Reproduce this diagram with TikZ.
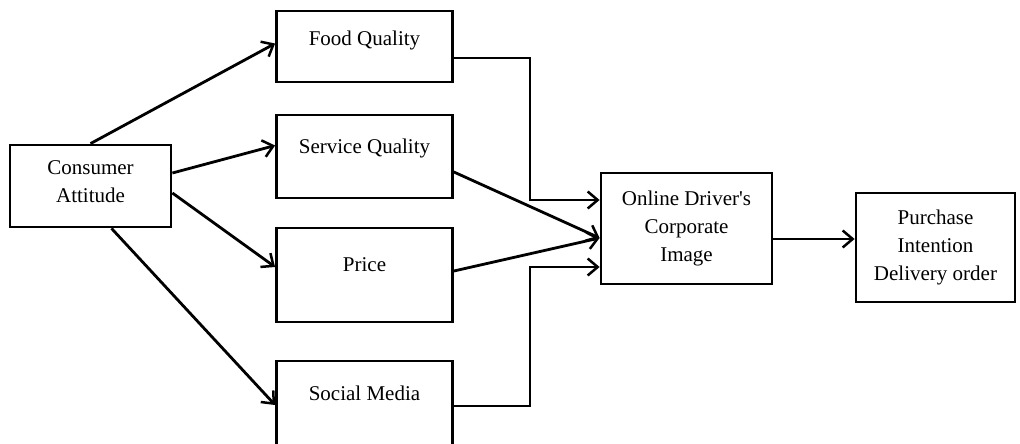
\documentclass[tikz,border=0pt]{standalone}
\usepackage{fontspec}
\setmainfont{Liberation Serif}
\usepackage{tikz}
\usetikzlibrary{arrows.meta}
\usetikzlibrary{calc}

\begin{document}
\begin{tikzpicture}[x=1pt,y=-1pt]
\tikzset{box/.style={draw=black, line width=2.8pt, inner sep=0pt, align=center,
                     font=\fontsize{21}{28}\selectfont}}
\tikzset{link/.style={line width=2.8pt, -{Straight Barb[length=10pt,width=17pt,line width=2.5pt]}}}
\tikzset{toptext/.style={anchor=center, yshift=-#1pt, font=\fontsize{21}{28}\selectfont}}

\useasboundingbox (0,0) rectangle (1020,444);

% left and right boxes
\node[box, minimum width=161pt, minimum height=82pt] (ca) at (90.5,186) {Consumer\\Attitude\rule[-9pt]{0pt}{9pt}};
\node[box, minimum width=171pt, minimum height=111pt] (oi) at (686.5,228.5) {Online Driver\textquotesingle s\\Corporate\\Image};
\node[box, minimum width=159pt, minimum height=109pt] (pi) at (935.5,247.5) {Purchase\\Intention\\Delivery order\rule[-4pt]{0pt}{4pt}};

% middle column
\foreach \name/\y/\h/\off/\txt in {%
   fq/46.5/71/31/Food Quality,%
   sq/156.5/83/35/Service Quality,%
   pr/275/94/38/Price,%
   sm/411/100/34/Social Media}
   \node[box, minimum width=176pt, minimum height=\h pt,
         label={[toptext=\off]north:\txt}] (\name) at (364.5,\y) {};

% consumer attitude to the four factors
\draw[link] (ca.north) -- ([yshift=3pt]fq.west);
\draw[link] ([yshift=13pt]ca.east) -- ([yshift=11pt]sq.west);
\draw[link] ([yshift=-7pt]ca.east) -- ([yshift=8pt]pr.west);
\draw[link] ([xshift=21pt]ca.south) -- ([yshift=6pt]sm.west);

% factors to corporate image
\draw[link] ([yshift=-11.5pt]fq.east) -- ++(76,0) |- ([yshift=28.5pt]oi.west);
\draw[link] ([yshift=-15.5pt]sq.east) -- ([yshift=-9.5pt]oi.west);
\draw[link] ([yshift=4pt]pr.east) -- ([yshift=-9.5pt]oi.west);
\draw[link] ([yshift=5pt]sm.east) -- ++(76,0) |- ([yshift=-38.5pt]oi.west);

% corporate image to purchase intention
\draw[link] ([yshift=-10.5pt]oi.east) -- ([yshift=-10.5pt]oi.east -| pi.west);
\end{tikzpicture}
\end{document}
